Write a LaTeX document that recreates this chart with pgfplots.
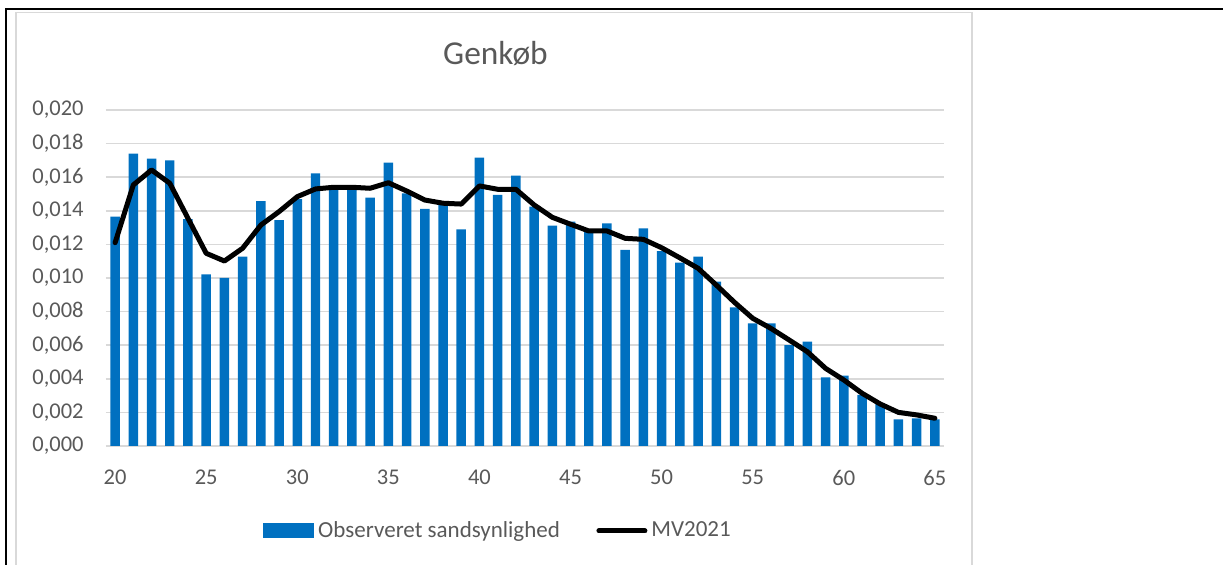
\documentclass[border=0pt]{standalone}
\usepackage{fontspec}
\setmainfont{Carlito}
\usepackage{pgfplots}
\usepackage{pgfplotstable}
\pgfplotsset{compat=1.18}

\definecolor{barblue}{HTML}{0070C0}
\definecolor{gridgray}{HTML}{D9D9D9}
\definecolor{txtgray}{HTML}{595959}

% alder, observeret sandsynlighed, MV2021
\pgfplotstableread{
age obs mv
20 0.01365 0.01210
21 0.01740 0.01554
22 0.01710 0.01643
23 0.01700 0.01564
24 0.01350 0.01355
25 0.01022 0.01147
26 0.01000 0.01101
27 0.01127 0.01177
28 0.01458 0.01315
29 0.01345 0.01395
30 0.01470 0.01484
31 0.01623 0.01530
32 0.01540 0.01540
33 0.01530 0.01540
34 0.01478 0.01534
35 0.01687 0.01567
36 0.01504 0.01518
37 0.01411 0.01464
38 0.01455 0.01445
39 0.01290 0.01440
40 0.01716 0.01548
41 0.01494 0.01528
42 0.01609 0.01528
43 0.01425 0.01435
44 0.01311 0.01361
45 0.01335 0.01320
46 0.01276 0.01280
47 0.01325 0.01280
48 0.01167 0.01236
49 0.01296 0.01230
50 0.01160 0.01180
51 0.01091 0.01120
52 0.01127 0.01058
53 0.00978 0.00958
54 0.00825 0.00855
55 0.00730 0.00760
56 0.00730 0.00700
57 0.00601 0.00631
58 0.00621 0.00561
59 0.00409 0.00462
60 0.00419 0.00393
61 0.00304 0.00314
62 0.00254 0.00250
63 0.00159 0.00200
64 0.00165 0.00185
65 0.00159 0.00165
}\datatable

\begin{document}
\begin{tikzpicture}
\useasboundingbox (0,0) rectangle (611.5pt,282.5pt);
% frames
\draw[line width=1.1pt] (3pt,0) -- (3pt,278pt) -- (611.5pt,278pt);
\draw[gridgray, line width=0.85pt] (8pt,0) -- (8pt,276.3pt) -- (486pt,276.3pt) -- (486pt,0);
% title
\node[anchor=base, text=txtgray, font=\fontsize{16.7}{20}\selectfont] at (247.75pt,250pt) {Genkøb};

\begin{axis}[
  at={(53pt,59.5pt)}, anchor=south west,
  scale only axis, width=419pt, height=168pt,
  xmin=19.5, xmax=65.5, ymin=0, ymax=0.02,
  xtick={20,25,...,65},
  ytick={0,0.002,0.004,0.006,0.008,0.010,0.012,0.014,0.016,0.018,0.020},
  scaled y ticks=false,
  yticklabel style={/pgf/number format/fixed, /pgf/number format/fixed zerofill,
    /pgf/number format/precision=3, /pgf/number format/use comma, xshift=-11pt},
  /pgf/number format/assume math mode=true,
  major tick length=0pt,
  axis line style={draw=none},
  ymajorgrids, grid style={gridgray, line width=0.75pt},
  tick label style={text=txtgray, font=\fontsize{11.25}{13}\selectfont, inner sep=0pt},
  xticklabel style={yshift=-12pt},
  legend columns=2,
  legend style={at={(0.4666,-0.253)}, anchor=center, draw=none, fill=none,
    font=\fontsize{11.5}{13}\selectfont, text=txtgray,
    nodes={inner sep=0pt}, column sep=2pt,
    /tikz/every even column/.append style={column sep=18.25pt}},
]
\addplot[ybar, bar width=0.52, fill=barblue, draw=none,
  legend image code/.code={\fill[barblue] (0pt,-3.75pt) rectangle (25.5pt,3.75pt);}]
  table[x=age, y=obs] {\datatable};
\addlegendentry{Observeret sandsynlighed}
\addplot[black, line width=2.5pt, line join=round, line cap=round, mark=none,
  legend image code/.code={\path[draw=none, fill=none] (0pt,-3.75pt) rectangle (25.5pt,3.75pt);
    \draw[black, line width=2.5pt, line cap=round] (1.25pt,0pt) -- (24.25pt,0pt);}]
  table[x=age, y=mv] {\datatable};
\addlegendentry{MV2021}
\end{axis}
\end{tikzpicture}
\end{document}
